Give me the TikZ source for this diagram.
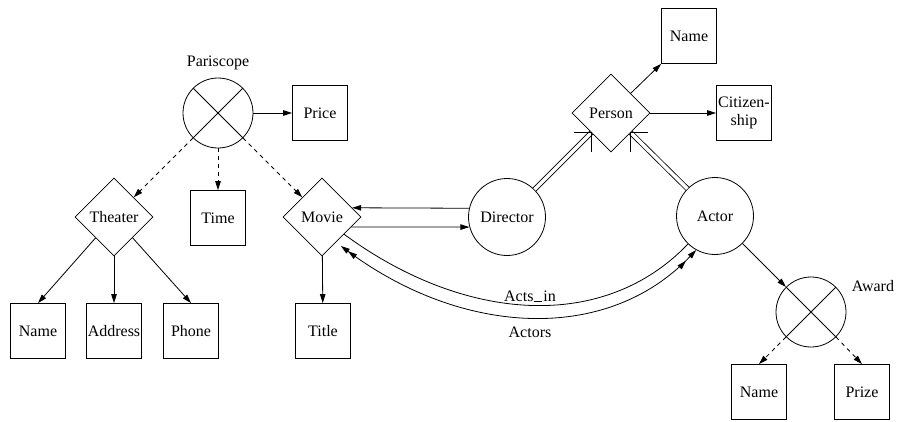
\documentclass[tikz,border=0pt]{standalone}
\usepackage{fontspec}
\setmainfont{Liberation Serif}
\usetikzlibrary{shapes.geometric,arrows.meta}
\begin{document}
\begin{tikzpicture}[x=1pt,y=-1pt,line width=0.8pt,
  every node/.style={font=\fontsize{16}{18}\selectfont},
  box/.style={draw, minimum width=55pt, minimum height=55pt, inner sep=0pt, align=center},
  dia/.style={draw, diamond, minimum width=78pt, minimum height=78pt, inner sep=0pt, aspect=1},
  ent/.style={draw, circle, minimum size=77pt, inner sep=0pt},
  xcirc/.style={draw, circle, minimum size=70pt, inner sep=0pt,
    path picture={\draw[line width=0.8pt] (path picture bounding box.north west) -- (path picture bounding box.south east)
      (path picture bounding box.south west) -- (path picture bounding box.north east);}},
  ar/.style={-{Triangle[length=9pt,width=5.5pt]}},
  dar/.style={ar, dash pattern=on 4pt off 4pt},
  isa/.style={double, double distance=3.5pt},
  lbl/.style={inner sep=0pt}]
\useasboundingbox (0,0) rectangle (899,421);
% nodes
\node[xcirc] (par) at (218,113) {};
\node[lbl] (parl) at (218,63) {Pariscope};
\node[box] (price) at (320,113) {Price};
\node[box] (time) at (218,218) {Time};
\node[dia] (th) at (114,217) {Theater};
\node[dia] (mov) at (322,217) {Movie};
\node[box] (n1) at (38,331) {Name};
\node[box] (addr) at (114,331) {Address};
\node[box] (ph) at (191,331) {Phone};
\node[box] (title) at (323,331) {Title};
\node[ent] (dir) at (507,217) {Director};
\node[ent] (act) at (715,216) {Actor};
\node[dia] (per) at (611,113) {Person};
\node[box] (n2) at (689,36) {Name};
\node[box] (cit) at (744,113) {Citizen-\\ship};
\node[xcirc] (aw) at (811,312) {};
\node[lbl] (awl) at (873,286) {Award};
\node[box] (n3) at (759,392) {Name};
\node[box] (pr) at (862,392) {Prize};
\node[lbl] (actsin) at (530,296) {Acts\kern.06em\vbox{\hrule width.5em height .5pt}\kern.06em in};
\node[lbl] (actors) at (530,332) {Actors};
% connectors
\draw[ar] (par) -- (price);
\draw[dar] (par.south west) -- (th);
\draw[dar] (par.south) -- (time);
\draw[dar] (par.south east) -- (mov.north west);
\draw[ar] (th) -- (n1.north);
\draw[ar] (th) -- (addr);
\draw[ar] (th) -- (ph.north);
\draw[ar] (mov) -- (title);
\draw[ar] (dir.167) -- (mov.17);
\draw[ar] (mov.-19) -- (dir.195);
\draw[isa] (dir) -- (per.south west);
\draw (per.south west) ++(-17,0) -- (per.south west) -- ++(0,19);
\draw[isa] (act) -- (per.south east);
\draw (per.south east) ++(17,0) -- (per.south east) -- ++(0,19);
\draw[ar] (per.north east) -- (n2.south west);
\draw[ar] (per) -- (cit);
\draw (mov.-38) .. controls (465,323) and (604,332) .. (act.226);
\draw[{Triangle[length=9pt,width=5.5pt,sep=6pt]Triangle[length=9pt,width=5.5pt]}-{Triangle[length=9pt,width=5.5pt,sep=6pt]Triangle[length=9pt,width=5.5pt]}]
  (mov.-61) .. controls (462,336) and (607,344) .. (act.241);
\draw[ar] (act) -- (aw);
\draw[dar] (aw.south west) -- (n3.north);
\draw[dar] (aw.south east) -- (pr.north);
\end{tikzpicture}
\end{document}
